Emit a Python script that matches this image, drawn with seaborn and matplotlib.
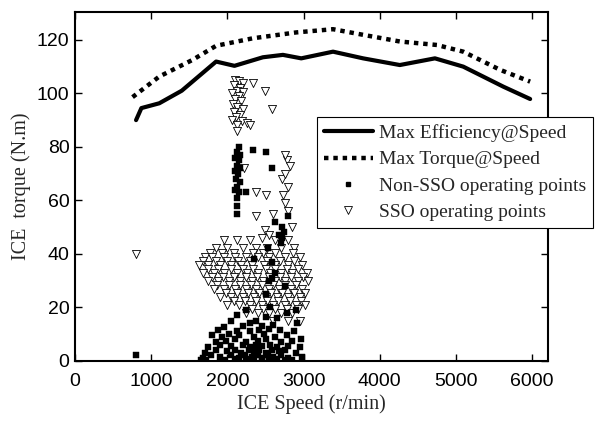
import matplotlib
matplotlib.use("Agg")
import matplotlib.pyplot as plt
from matplotlib.lines import Line2D
import numpy as np
import pandas as pd
import seaborn as sns


# max efficiency torque at each speed
eff_speed = [800, 870, 1105, 1400, 1851, 2092, 2465, 2728, 2969, 3386,
             3781, 4263, 4724, 5096, 5623, 5974]
eff_torque = [90, 94.5, 96.3, 101, 111.9, 110.3, 113.5, 114.4, 113.1, 115.6,
              113.1, 110.6, 113.1, 110.0, 102.5, 97.9]

# max torque at each speed
max_speed = [754, 1105, 1540, 1851, 2333, 2904, 3386, 3781, 4263, 4750,
             5096, 5580, 5974]
max_torque = [98.6, 106.3, 112.5, 117.8, 120.6, 122.8, 124.0, 121.9, 119.4,
              118.1, 115.6, 108.8, 104.4]

# non-SSO operating points
nsso_speed = [
    800,
    2150, 2120, 2170, 2100, 2150, 2120, 2170, 2100, 2140, 2110, 2160, 2130,
    2100, 2150, 2120, 2130, 2120,
    2330, 2500, 2590, 2250, 2800, 2620, 2720, 2740, 2720, 2530, 2590, 2590,
    2550, 2680, 2700, 2350, 2620, 2500, 2750,
    2250, 2780, 2560, 2900,
    2130, 2510, 2380, 2650, 2050,
    2290, 2910, 2450, 2200, 2600, 1950,
    2690, 2880, 2420, 2120, 1880, 2300, 2550,
    1930, 2020, 2150, 2350, 2480, 2620, 2780, 1800,
    1850, 1980, 2100, 2250, 2400, 2500, 2700, 2850, 2960,
    1750, 1900, 2050, 2200, 2300, 2380, 2450, 2560, 2650, 2800, 2950,
    1700, 1850, 2000, 2100, 2180, 2280, 2350, 2420, 2500, 2580, 2680, 2750,
    2900,
    1680, 1780, 1900, 2050, 2150, 2230, 2320, 2400, 2460, 2530, 2600, 2700,
    2800, 2980,
    1650, 1720, 1950, 2100, 2250, 2350, 2450, 2550, 2650, 2750, 2850,
]
nsso_torque = [
    2,
    80, 78, 77, 76, 75, 73, 72, 71, 70, 68, 67, 65,
    64, 63, 61, 58, 55,
    79, 78, 72, 63, 54, 52, 50, 48, 46, 42, 37, 31,
    30, 47, 44, 38, 33, 25, 28,
    19, 18, 20, 19,
    17, 16.5, 15, 16, 15,
    14, 14, 13, 13, 13.5, 12.5,
    11.6, 11, 11.6, 11, 11.5, 11, 12,
    9, 10, 9.5, 9, 10, 9, 9.5, 9.5,
    7, 7.5, 8, 7, 7.5, 8, 7, 7.5, 8,
    5, 6, 5.5, 6, 5, 6, 5.5, 6, 5, 5.5, 5,
    3, 4, 3.5, 4, 3, 4, 3.5, 4, 3, 4, 3.5, 4,
    3,
    1, 2, 1.5, 2, 1, 2, 1.5, 2, 1, 2, 1.5, 2,
    1, 1.5,
    0.3, 0.3, 0.3, 0.5, 0.5, 0.3, 0.5, 0.3, 0.5, 0.3, 0.4,
]

# SSO operating points
sso_speed = [
    800,
    2100, 2150, 2200, 2080, 2170, 2120, 2200, 2060, 2150, 2100, 2180, 2070,
    2130, 2200, 2090, 2160, 2110, 2060, 2190, 2120, 2260, 2120, 2330, 2490,
    2590, 2300,
    2780, 2750, 2820, 2710, 2760, 2800, 2730, 2220, 2380, 2510, 2750, 2380,
    2490, 2600, 2800, 2850, 2550,
    1950, 2120, 2290, 2450, 2620, 2800,
    1850, 2000, 2200, 2380, 2520, 2700, 2880,
    1770, 1930, 2080, 2330, 2470, 2620, 2860,
    1700, 1800, 1950, 2100, 2250, 2400, 2550, 2750, 2950,
    1680, 1850, 2000, 2140, 2300, 2520, 2690, 2880,
    1620, 1750, 1900, 2050, 2180, 2320, 2480, 2630, 2800, 2980,
    1740, 1880, 2040, 2200, 2330, 2500, 2630, 2780, 2930,
    1680, 1820, 1960, 2120, 2260, 2400, 2560, 2700, 2850, 3050,
    1800, 1940, 2090, 2240, 2390, 2540, 2690, 2830, 2990,
    1750, 1880, 2020, 2170, 2320, 2470, 2620, 2760, 2920, 3060,
    1860, 2020, 2170, 2310, 2460, 2600, 2750, 2900,
    1820, 1950, 2100, 2240, 2380, 2540, 2680, 2830, 2980,
    1980, 2120, 2270, 2420, 2570, 2720, 2870, 3020,
    1900, 2050, 2200, 2350, 2500, 2650, 2800, 2950,
    2080, 2230, 2380, 2520, 2670, 2820, 2970,
    2000, 2150, 2300, 2450, 2600, 2750, 2900, 3020,
    2320, 2470, 2620, 2780, 2930,
    2250, 2400, 2550, 2700, 2850,
    2600, 2800, 2950,
]
sso_torque = [
    40,
    105, 104.5, 104, 103, 102, 101, 100.5, 100, 99, 98, 97, 96,
    95, 94, 93, 92, 91, 90, 89.5, 88, 89, 86, 104, 101,
    94, 88,
    75, 77, 73, 68, 70, 65, 62, 72, 63, 62, 59, 54,
    49, 55, 56, 50, 47,
    45, 45, 45, 46, 45, 45,
    42, 42, 42, 42, 42, 42, 42,
    40.5, 40.5, 40.5, 40.5, 40.5, 40.5, 40.5,
    39, 39, 39, 39, 39, 39, 39, 39, 39,
    37.5, 37.5, 37.5, 37.5, 37.5, 37.5, 37.5, 37.5,
    36, 36, 36, 36, 36, 36, 36, 36, 36, 36,
    34.5, 34.5, 34.5, 34.5, 34.5, 34.5, 34.5, 34.5, 34.5,
    33, 33, 33, 33, 33, 33, 33, 33, 33, 33,
    31.5, 31.5, 31.5, 31.5, 31.5, 31.5, 31.5, 31.5, 31.5,
    30, 30, 30, 30, 30, 30, 30, 30, 30, 30,
    28.5, 28.5, 28.5, 28.5, 28.5, 28.5, 28.5, 28.5,
    27, 27, 27, 27, 27, 27, 27, 27, 27,
    25.5, 25.5, 25.5, 25.5, 25.5, 25.5, 25.5, 25.5,
    24, 24, 24, 24, 24, 24, 24, 24,
    22.5, 22.5, 22.5, 22.5, 22.5, 22.5, 22.5,
    21, 21, 21, 21, 21, 21, 21, 21,
    19.5, 19.5, 19.5, 19.5, 19.5,
    18, 18, 18, 18, 18,
    15, 15, 15,
]


def main():
    sns.set_style("ticks")
    plt.rcParams["font.family"] = ["Liberation Sans", "DejaVu Sans"]

    fig = plt.figure(figsize=(6.01, 4.22), dpi=100)
    ax = fig.add_axes([0.125, 0.145, 0.787, 0.827])

    eff = pd.DataFrame({"speed": eff_speed, "torque": eff_torque})
    mx = pd.DataFrame({"speed": max_speed, "torque": max_torque})
    nsso = pd.DataFrame({"speed": nsso_speed, "torque": nsso_torque})
    sso = pd.DataFrame({"speed": sso_speed, "torque": sso_torque})

    sns.scatterplot(sso, x="speed", y="torque", ax=ax, marker="v", s=34,
            facecolor="white", edgecolor="black", linewidth=0.6,
            zorder=2, legend=False)
    sns.scatterplot(nsso, x="speed", y="torque", ax=ax, marker="s", s=14,
            color="black", edgecolor="black", linewidth=0.3,
            zorder=3, legend=False)
    sns.lineplot(eff, x="speed", y="torque", ax=ax, color="black", lw=3,
            sort=False, zorder=4)
    sns.lineplot(mx, x="speed", y="torque", ax=ax, color="black", lw=3.2,
            linestyle=(0, (1, 1.1)), sort=False, zorder=4)

    ax.set_xlim(0, 6210)
    ax.set_ylim(0, 130.5)
    ax.set_xticks(range(0, 7000, 1000))
    ax.set_yticks(range(0, 140, 20))
    ax.tick_params(direction="in", top=True, right=True, length=5,
            width=1, labelsize=14, colors="black")
    ax.tick_params(axis="x", pad=9)
    ax.tick_params(axis="y", pad=4)
    for sp in ax.spines.values():
        sp.set_linewidth(1.5)
        sp.set_color("black")

    ax.set_xlabel("ICE Speed (r/min)", family="Liberation Serif",
            fontsize=14.5, labelpad=3)
    ax.set_ylabel("ICE  torque (N.m)", family="Liberation Serif",
            fontsize=14.5, labelpad=4)

    handles = [
        Line2D([], [], color="black", lw=3),
        Line2D([], [], color="black", lw=3.2, linestyle=(0, (1, 1.1))),
        Line2D([], [], color="black", marker="s", ms=3, lw=0),
        Line2D([], [], color="black", marker="v", ms=6, lw=0,
               markerfacecolor="white", markeredgewidth=0.6),
    ]
    labels = ["Max Efficiency@Speed", "Max Torque@Speed",
              "Non-SSO operating points", "SSO operating points"]
    leg = fig.legend(handles, labels, loc="upper left",
            bbox_to_anchor=(0.528, 0.722), frameon=True, fancybox=False,
            edgecolor="black", framealpha=1, handlelength=2.5,
            handletextpad=0.3, borderpad=0.35, labelspacing=0.45,
            borderaxespad=0,
            prop={"family": "Liberation Serif", "size": 14})
    leg.get_frame().set_linewidth(0.8)

    fig.savefig("out.png", dpi=100)


if __name__ == "__main__":
    main()
